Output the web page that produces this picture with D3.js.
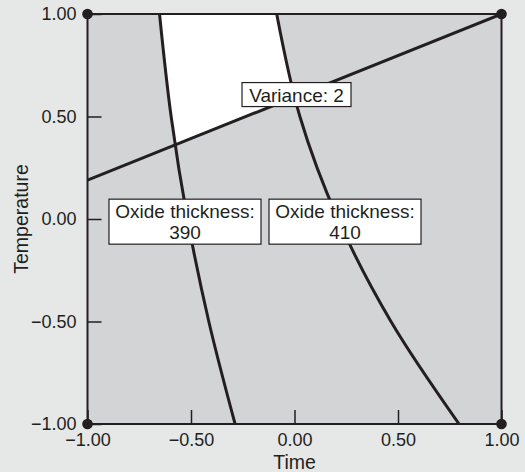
<!DOCTYPE html>
<html><head><meta charset="utf-8">
<script src="https://cdn.jsdelivr.net/npm/d3@7"></script>
<style>body{margin:0;background:#e6e7e7;}svg{display:block;}</style>
</head><body>
<svg id="c" width="525" height="472"></svg>
<script>
// ---- data ----
const xTicks = [-1, -0.5, 0, 0.5, 1];
const yTicks = [-1, -0.5, 0, 0.5, 1];
const xTitle = "Time";
const yTitle = "Temperature";
// contour "Oxide thickness: 390" (x, y), top to bottom
const curve390 = [[-0.652, 1], [-0.596, 0.5], [-0.517, 0], [-0.414, -0.5], [-0.287, -1]];
// contour "Oxide thickness: 410"
const curve410 = [[-0.086, 1], [0.026, 0.5], [0.210, 0], [0.466, -0.5], [0.795, -1]];
// contour "Variance: 2"
const varianceLine = [[-1, 0.19], [1, 1]];
const cornerPoints = [[-1, 1], [1, 1], [-1, -1], [1, -1]];
const labelLines = [["Variance: 2"], ["Oxide thickness:", "390"], ["Oxide thickness:", "410"]];
const labelAt = [[0.0097, 0.607], [-0.529, -0.013], [0.244, -0.013]];

// ---- drawing ----
const svg = d3.select("#c");
const ink = "#231f20";
const font = "'Liberation Sans', Arial, sans-serif";
const x = d3.scaleLinear().domain([-1, 1]).range([87.5, 501.5]);
const y = d3.scaleLinear().domain([-1, 1]).range([424, 14]);
const boxW = [109, 152, 152];

svg.append("rect").attr("width", 525).attr("height", 472).attr("fill", "#e6e7e7");
svg.append("rect").attr("x", x(-1)).attr("y", y(1)).attr("width", x(1) - x(-1)).attr("height", y(-1) - y(1)).attr("fill", "#d3d4d6");

const line = d3.line().x(d => x(d[0])).y(d => y(d[1])).curve(d3.curveCatmullRom.alpha(0.5));
const straight = d3.line().x(d => x(d[0])).y(d => y(d[1]));
const defs = svg.append("defs");
defs.append("clipPath").attr("id", "plot").append("rect")
  .attr("x", x(-1)).attr("y", y(1)).attr("width", x(1) - x(-1)).attr("height", y(-1) - y(1));
defs.append("clipPath").attr("id", "above").append("path")
  .attr("d", straight([varianceLine[0], varianceLine[1], [-1, 1]]) + "Z");
defs.append("clipPath").attr("id", "right390").append("path")
  .attr("d", line(curve390) + `L${x(1)},${y(-1)}L${x(1)},${y(1)}Z`);
defs.append("clipPath").attr("id", "left410").append("path")
  .attr("d", line(curve410) + `L${x(-1)},${y(-1)}L${x(-1)},${y(1)}Z`);

svg.append("g").attr("clip-path", "url(#above)")
  .append("g").attr("clip-path", "url(#right390)")
  .append("rect").attr("clip-path", "url(#left410)")
  .attr("x", x(-1)).attr("y", y(1)).attr("width", x(1) - x(-1)).attr("height", y(-1) - y(1))
  .attr("fill", "#ffffff");

const curves = svg.append("g").attr("clip-path", "url(#plot)");
[curve390, curve410].forEach(c => curves.append("path").attr("d", line(c))
  .attr("fill", "none").attr("stroke", ink).attr("stroke-width", 3));
curves.append("path").attr("d", straight(varianceLine)).attr("fill", "none").attr("stroke", ink).attr("stroke-width", 3);

// axes
const fmt = d3.format(".2f");
const ax = svg.append("g").attr("transform", `translate(0,${y(-1)})`)
  .call(d3.axisBottom(x).tickValues(xTicks).tickSize(-14).tickPadding(9).tickFormat(fmt));
const ay = svg.append("g").attr("transform", `translate(${x(-1)},0)`)
  .call(d3.axisLeft(y).tickValues(yTicks).tickSize(-14).tickPadding(11).tickFormat(fmt));
[ax, ay].forEach(a => {
  a.select(".domain").remove();
  a.selectAll("line").attr("stroke", ink).attr("stroke-width", 1.5);
  a.selectAll("text").attr("fill", ink).style("font-family", font).style("font-size", "18px");
});

// frame
svg.append("rect").attr("x", x(-1)).attr("y", y(1)).attr("width", x(1) - x(-1)).attr("height", y(-1) - y(1))
  .attr("fill", "none").attr("stroke", ink).attr("stroke-width", 2);
svg.selectAll("circle.corner").data(cornerPoints).join("circle").attr("class", "corner")
  .attr("cx", d => x(d[0])).attr("cy", d => y(d[1])).attr("r", 5.3).attr("fill", ink);

// titles
svg.append("text").attr("x", (x(-1) + x(1)) / 2).attr("y", 469).attr("text-anchor", "middle")
  .attr("fill", ink).style("font-family", font).style("font-size", "19.5px").text(xTitle);
svg.append("text").attr("transform", `translate(28,${y(0)}) rotate(-90)`).attr("text-anchor", "middle")
  .attr("fill", ink).style("font-family", font).style("font-size", "19.5px").text(yTitle);

// labels
labelLines.forEach((lines, k) => {
  const g = svg.append("g").attr("transform", `translate(${x(labelAt[k][0])},${y(labelAt[k][1])})`);
  const n = lines.length;
  const h = n * 21 + 3;
  g.append("rect").attr("x", -boxW[k] / 2).attr("y", -h / 2)
    .attr("width", boxW[k]).attr("height", h)
    .attr("fill", "#fff").attr("stroke", ink).attr("stroke-width", 1.2);
  const t = g.append("text").attr("text-anchor", "middle").attr("fill", ink)
    .style("font-family", font).style("font-size", "19px");
  lines.forEach((s, i) => t.append("tspan").attr("x", 0)
    .attr("y", (i - (n - 1) / 2) * 21 + 7).text(s));
});
</script>
</body></html>
